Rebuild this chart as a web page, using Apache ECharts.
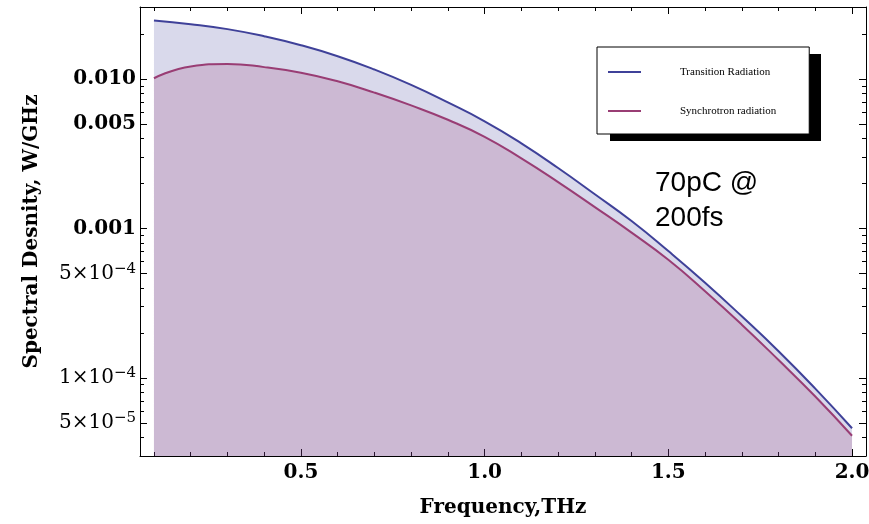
<!DOCTYPE html>
<html>
<head>
<meta charset="utf-8">
<script src="https://cdn.jsdelivr.net/npm/echarts@6/dist/echarts.min.js"></script>
<style>
  html, body { margin: 0; padding: 0; background: #fff; }
  #chart { width: 869px; height: 524px; }
</style>
</head>
<body>
<div id="chart"></div>
<script>
// frequency, THz
var freq = [0.1, 0.2, 0.3, 0.4, 0.5, 0.6, 0.7, 0.8, 0.9, 1.0,
            1.1, 1.2, 1.3, 1.4, 1.5, 1.6, 1.7, 1.8, 1.9, 2.0];
// spectral density, W/GHz
var transition = [0.02457, 0.02324, 0.02155, 0.01931, 0.01681, 0.01419, 0.01156, 0.00912, 0.00696, 0.00521,
                  0.00371, 0.002536, 0.001693, 0.00112, 0.000705, 0.000433, 0.000258, 0.0001507, 0.0000847, 0.0000460];
var synchrotron = [0.01011, 0.01213, 0.01260, 0.01200, 0.01100, 0.00964, 0.00810, 0.00665, 0.00533, 0.00410,
                   0.00294, 0.00204, 0.001388, 0.000937, 0.000617, 0.000380, 0.000227, 0.0001316, 0.0000750, 0.0000410];

var xMajorTicks = [0.5, 1.0, 1.5, 2.0];
var xMinorTicks = [0.1, 0.2, 0.3, 0.4, 0.6, 0.7, 0.8, 0.9, 1.1, 1.2, 1.3, 1.4, 1.6, 1.7, 1.8, 1.9];
var yMajorTicks = [5e-5, 1e-4, 5e-4, 1e-3, 5e-3, 1e-2];
var yMinorTicks = [4e-5, 6e-5, 7e-5, 8e-5, 9e-5,
                   2e-4, 3e-4, 4e-4, 6e-4, 7e-4, 8e-4, 9e-4,
                   2e-3, 3e-3, 4e-3, 6e-3, 7e-3, 8e-3, 9e-3,
                   2e-2, 3e-2];

var blue = '#3f4199';
var purple = '#993d74';
var serif = '"DejaVu Serif", "Liberation Serif", serif';
var legendSerif = '"Liberation Serif", "Times New Roman", serif';

function pairs(xs, ys) {
    return xs.map(function (x, i) { return [x, ys[i]]; });
}

function fmtY(v) {
    var e = Math.floor(Math.log10(v) + 1e-9);
    var m = Math.round(v / Math.pow(10, e));
    if (e >= -3) return '{b|' + (m * Math.pow(10, e)).toFixed(3) + '}';
    return '{r|' + m + '×10}{s|−' + (-e) + '}';
}

function xAx(pos, ticks, len, showLabel, showLine) {
    return {
        type: 'value', position: pos, min: 0.062, max: 2.038,
        axisLine: { show: showLine, lineStyle: { color: '#000', width: 1 } },
        axisTick: { inside: true, length: len, customValues: ticks, lineStyle: { color: '#000' } },
        axisLabel: {
            show: showLabel, customValues: ticks, margin: 7,
            formatter: function (v) { return v.toFixed(1); },
            fontFamily: serif, fontWeight: 'bold', fontSize: 20, color: '#000'
        },
        splitLine: { show: false }
    };
}

function yAx(pos, ticks, len, showLabel, showLine) {
    return {
        type: 'log', logBase: 10, position: pos, min: 3.0e-5, max: 0.0303,
        axisLine: { show: showLine, lineStyle: { color: '#000', width: 1 } },
        axisTick: { inside: true, length: len, customValues: ticks, lineStyle: { color: '#000' } },
        axisLabel: {
            show: showLabel, customValues: ticks, margin: 4,
            formatter: fmtY,
            rich: {
                b: { fontFamily: serif, fontWeight: 'bold', fontSize: 20, color: '#000', lineHeight: 24 },
                r: { fontFamily: serif, fontSize: 20, color: '#000', lineHeight: 24 },
                s: { fontFamily: serif, fontSize: 15, color: '#000', verticalAlign: 'top', lineHeight: 15 }
            }
        },
        splitLine: { show: false }
    };
}

var xBottom = xAx('bottom', xMajorTicks, 7, true, true);
xBottom.name = 'Frequency,THz';
xBottom.nameLocation = 'middle';
xBottom.nameGap = 42;
xBottom.nameTextStyle = { fontFamily: serif, fontWeight: 'bold', fontSize: 20, color: '#000' };

var yLeft = yAx('left', yMajorTicks, 7, true, true);
yLeft.name = 'Spectral Desnity, W/GHz';
yLeft.nameLocation = 'middle';
yLeft.nameGap = 98;
yLeft.nameTextStyle = { fontFamily: serif, fontWeight: 'bold', fontSize: 20, color: '#000' };

var chart = echarts.init(document.getElementById('chart'));
chart.setOption({
    animation: false,
    backgroundColor: '#fff',
    grid: { left: 140, right: 3, top: 7, bottom: 68, outerBoundsMode: 'none' },
    legend: {
        orient: 'vertical', left: 597, top: 47, z: 10,
        padding: [18, 33, 16, 11],
        icon: 'rect', itemWidth: 33, itemHeight: 2, itemGap: 25,
        backgroundColor: '#fff', borderColor: '#000', borderWidth: 1,
        textStyle: { fontFamily: legendSerif, fontSize: 11, color: '#000', lineHeight: 14, padding: [0, 0, 0, 34] },
        data: ['Transition Radiation', 'Synchrotron radiation']
    },
    xAxis: [
        xBottom,
        xAx('bottom', xMinorTicks, 4, false, false),
        xAx('top', xMajorTicks, 7, false, true),
        xAx('top', xMinorTicks, 4, false, false)
    ],
    yAxis: [
        yLeft,
        yAx('left', yMinorTicks, 4, false, false),
        yAx('right', yMajorTicks, 7, false, true),
        yAx('right', yMinorTicks, 4, false, false)
    ],
    graphic: [
        {
            // drop shadow behind the legend box
            type: 'rect', z: 5, shape: { x: 610, y: 54, width: 211, height: 87 },
            style: { fill: '#000' }
        },
        {
            type: 'text', left: 655, top: 166,
            style: { text: '70pC @\n200fs', font: '28px "Liberation Sans", Arial, sans-serif', fill: '#000', lineHeight: 35 }
        }
    ],
    series: [
        {
            name: 'Transition Radiation', type: 'line', smooth: true, symbol: 'none',
            xAxisIndex: 0, yAxisIndex: 0,
            lineStyle: { color: blue, width: 2 }, itemStyle: { color: blue },
            areaStyle: { color: blue, opacity: 0.2, origin: 'start' },
            data: pairs(freq, transition)
        },
        {
            name: 'Synchrotron radiation', type: 'line', smooth: true, symbol: 'none',
            xAxisIndex: 0, yAxisIndex: 0,
            lineStyle: { color: purple, width: 2 }, itemStyle: { color: purple },
            areaStyle: { color: purple, opacity: 0.2, origin: 'start' },
            data: pairs(freq, synchrotron)
        }
    ]
});
</script>
</body>
</html>
